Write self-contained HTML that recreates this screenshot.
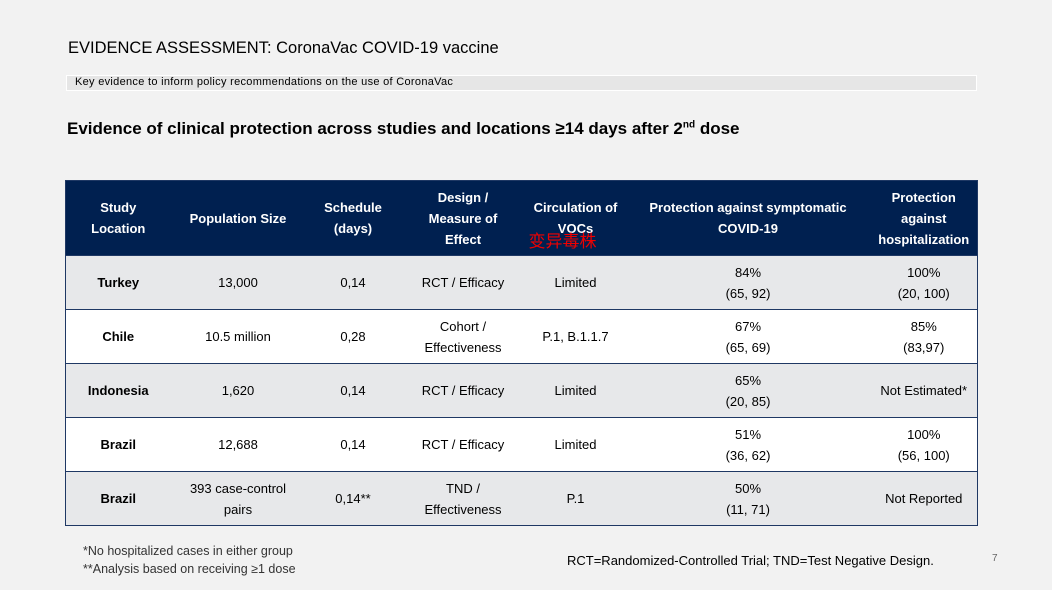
<!DOCTYPE html>
<html><head><meta charset="utf-8"><style>
body{margin:0;width:1052px;height:590px;background:#f2f2f2;font-family:"Liberation Sans","Noto Sans CJK SC",sans-serif;position:relative;overflow:hidden;color:#000}
.abs{position:absolute;white-space:nowrap}
table{position:absolute;left:65px;top:180px;width:912px;border-collapse:collapse;font-size:13px;table-layout:fixed}
td,th{text-align:center;vertical-align:middle;padding:0;line-height:21px}
th{background:#002050;color:#fff;font-weight:bold;height:74px;font-size:13px}
tr.g td{background:#e7e8ea}
tr.w td{background:#fff}
tbody td{height:53px;border-top:1px solid #1f3864}
table{border:1px solid #1f3864}
td.b{font-weight:bold}
</style></head><body>
<div class="abs" style="left:68px;top:39px;font-size:16.5px">EVIDENCE ASSESSMENT: CoronaVac COVID-19 vaccine</div>
<div class="abs" style="left:66px;top:75px;width:909px;height:14px;background:#e6e6e6;border:1px solid #fff"></div>
<div class="abs" style="left:75px;top:75px;font-size:11px;line-height:15px;letter-spacing:0.3px">Key evidence to inform policy recommendations on the use of CoronaVac</div>
<div class="abs" style="left:67px;top:119px;font-size:17px;font-weight:bold">Evidence of clinical protection across studies and locations ≥14 days after 2<sup style="font-size:10px">nd</sup> dose</div>
<table>
<colgroup><col style="width:105px"><col style="width:135px"><col style="width:95px"><col style="width:125px"><col style="width:100px"><col style="width:245px"><col style="width:107px"></colgroup>
<thead><tr><th>Study<br>Location</th><th>Population Size</th><th>Schedule<br>(days)</th><th>Design /<br>Measure of<br>Effect</th><th style="position:relative">Circulation of<br>VOCs<span style="position:absolute;left:3px;top:52px;color:#e00;font-weight:normal;font-size:17px;line-height:18px">变异毒株</span></th><th>Protection against symptomatic<br>COVID-19</th><th>Protection<br>against<br>hospitalization</th></tr></thead>
<tbody>
<tr class="g"><td class="b">Turkey</td><td>13,000</td><td>0,14</td><td>RCT / Efficacy</td><td>Limited</td><td>84%<br>(65, 92)</td><td>100%<br>(20, 100)</td></tr>
<tr class="w"><td class="b">Chile</td><td>10.5 million</td><td>0,28</td><td>Cohort /<br>Effectiveness</td><td>P.1, B.1.1.7</td><td>67%<br>(65, 69)</td><td>85%<br>(83,97)</td></tr>
<tr class="g"><td class="b">Indonesia</td><td>1,620</td><td>0,14</td><td>RCT / Efficacy</td><td>Limited</td><td>65%<br>(20, 85)</td><td>Not Estimated*</td></tr>
<tr class="w"><td class="b">Brazil</td><td>12,688</td><td>0,14</td><td>RCT / Efficacy</td><td>Limited</td><td>51%<br>(36, 62)</td><td>100%<br>(56, 100)</td></tr>
<tr class="g"><td class="b">Brazil</td><td>393 case-control<br>pairs</td><td>0,14**</td><td>TND /<br>Effectiveness</td><td>P.1</td><td>50%<br>(11, 71)</td><td>Not Reported</td></tr>
</tbody></table>
<div class="abs" style="left:83px;top:542px;font-size:12.5px;line-height:18px;color:#333">*No hospitalized cases in either group<br>**Analysis based on receiving ≥1 dose</div>
<div class="abs" style="left:567px;top:553px;font-size:13px">RCT=Randomized-Controlled Trial; TND=Test Negative Design.</div>
<div class="abs" style="left:992px;top:553px;font-size:10px;color:#666">7</div>
</body></html>
